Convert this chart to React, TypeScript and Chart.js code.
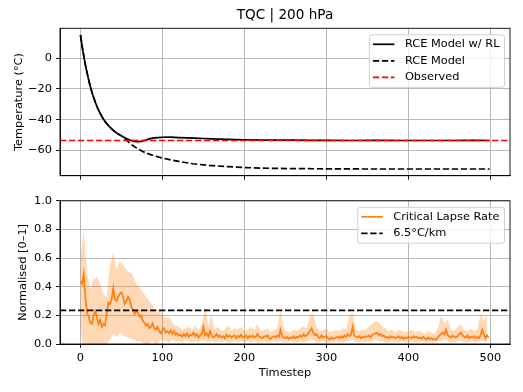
import React, { useEffect, useRef } from "react";
import { Chart, registerables } from "chart.js";

Chart.register(...registerables);

// ---------- axis settings ----------
const X_MIN = -24.95;
const X_MAX = 523.95;
const X_TICKS = [0, 100, 200, 300, 400, 500];
const TEMP_MIN = -76.35;
const TEMP_MAX = 19.35;
const TEMP_TICKS = [-60, -40, -20, 0];
const NORM_MIN = 0;
const NORM_MAX = 1;
const NORM_TICKS = [0, 0.2, 0.4, 0.6, 0.8, 1.0];

const TITLE = "TQC | 200 hPa";
const TEMP_LABEL = "Temperature (°C)";
const NORM_LABEL = "Normalised [0–1]";
const X_LABEL = "Timestep";

// ---------- top panel data ----------
const rlSteps = [0, 3, 6, 9, 12, 15, 18, 21, 24, 27, 30, 35, 40, 45, 50, 55, 60, 65, 70, 75, 80, 85, 90, 95, 100, 110, 120, 130, 140, 150, 160, 170, 180, 190, 200, 220, 240, 260, 280, 300, 330, 360, 390, 420, 450, 480, 499];
const rlTemp = [15, 4.5, -4.4, -11.9, -18.4, -23.9, -28.5, -32.5, -35.9, -38.7, -41.2, -44.4, -46.9, -48.9, -50.5, -52.0, -53.2, -54.0, -54.3, -54.0, -53.2, -52.3, -51.8, -51.6, -51.4, -51.3, -51.6, -51.8, -52.0, -52.2, -52.4, -52.6, -52.8, -52.9, -53.0, -53.2, -53.3, -53.3, -53.4, -53.4, -53.5, -53.4, -53.5, -53.5, -53.5, -53.4, -53.5];

const rlBandSteps = [50, 55, 60, 65, 70, 75, 80, 85, 90, 95, 100, 105, 110];
const rlBandLow = [-51.2, -53.2, -54.6, -55.6, -55.8, -55.3, -54.3, -53.2, -52.5, -52.2, -52.0, -51.9, -51.7];
const rlBandHigh = [-49.8, -50.8, -51.8, -52.4, -52.8, -52.7, -52.1, -51.4, -51.1, -51.0, -50.8, -50.8, -50.9];

const rceSteps = [0, 3, 6, 9, 12, 15, 18, 21, 24, 27, 30, 35, 40, 45, 50, 55, 60, 65, 70, 76, 80, 90, 100, 110, 120, 137, 157, 180, 198, 220, 250, 300, 350, 400, 450, 499];
const rceTemp = [15, 4.5, -4.4, -11.9, -18.4, -23.9, -28.5, -32.5, -35.9, -38.7, -41.2, -44.4, -46.9, -48.9, -50.5, -52.6, -55.2, -57.2, -58.9, -60.6, -61.6, -63.5, -64.9, -66.1, -67.1, -68.6, -69.7, -70.5, -71.0, -71.4, -71.7, -71.9, -72.0, -72.0, -72.0, -72.0];

const OBSERVED_TEMP = -53.5;

// ---------- bottom panel data ----------
const clrSteps = [
  0, 2, 4, 6, 8, 10, 12, 14, 16, 18,
  20, 22, 24, 26, 28, 30, 32, 34, 36, 38,
  40, 42, 44, 46, 48, 50, 52, 54, 56, 58,
  60, 62, 64, 66, 68, 70, 72, 74, 76, 78,
  80, 82, 84, 86, 88, 90, 92, 94, 96, 98,
  100, 102, 104, 106, 108, 110, 112, 114, 116, 118,
  120, 122, 124, 126, 128, 130, 132, 134, 136, 138,
  140, 142, 144, 146, 148, 150, 152, 154, 156, 158,
  160, 162, 164, 166, 168, 170, 172, 174, 176, 178,
  180, 182, 184, 186, 188, 190, 192, 194, 196, 198,
  200, 202, 204, 206, 208, 210, 212, 214, 216, 218,
  220, 222, 224, 226, 228, 230, 232, 234, 236, 238,
  240, 242, 244, 246, 248, 250, 252, 254, 256, 258,
  260, 262, 264, 266, 268, 270, 272, 274, 276, 278,
  280, 282, 284, 286, 288, 290, 292, 294, 296, 298,
  300, 302, 304, 306, 308, 310, 312, 314, 316, 318,
  320, 322, 324, 326, 328, 330, 332, 334, 336, 338,
  340, 342, 344, 346, 348, 350, 352, 354, 356, 358,
  360, 362, 364, 366, 368, 370, 372, 374, 376, 378,
  380, 382, 384, 386, 388, 390, 392, 394, 396, 398,
  400, 402, 404, 406, 408, 410, 412, 414, 416, 418,
  420, 422, 424, 426, 428, 430, 432, 434, 436, 438,
  440, 442, 444, 446, 448, 450, 452, 454, 456, 458,
  460, 462, 464, 466, 468, 470, 472, 474, 476, 478,
  480, 482, 484, 486, 488, 490, 492, 494, 496, 498,
];
const clrMean = [
  0.44, 0.42, 0.49, 0.32, 0.22, 0.19, 0.15, 0.14, 0.2, 0.23,
  0.19, 0.14, 0.17, 0.12, 0.14, 0.13, 0.21, 0.29, 0.28, 0.31,
  0.39, 0.31, 0.3, 0.33, 0.35, 0.36, 0.33, 0.28, 0.3, 0.33,
  0.31, 0.26, 0.24, 0.21, 0.23, 0.22, 0.19, 0.2, 0.16, 0.15,
  0.13, 0.14, 0.11, 0.12, 0.145, 0.11, 0.1, 0.12, 0.09, 0.075,
  0.1, 0.11, 0.08, 0.09, 0.075, 0.095, 0.07, 0.09, 0.065, 0.075,
  0.06, 0.065, 0.05, 0.07, 0.055, 0.075, 0.05, 0.065, 0.06, 0.08,
  0.055, 0.07, 0.045, 0.06, 0.07, 0.12, 0.06, 0.075, 0.05, 0.09,
  0.06, 0.045, 0.055, 0.07, 0.05, 0.06, 0.045, 0.055, 0.04, 0.065,
  0.05, 0.06, 0.045, 0.055, 0.06, 0.04, 0.055, 0.05, 0.065, 0.045,
  0.05, 0.06, 0.04, 0.055, 0.05, 0.06, 0.045, 0.05, 0.07, 0.05,
  0.045, 0.04, 0.055, 0.05, 0.06, 0.04, 0.035, 0.05, 0.055, 0.045,
  0.06, 0.05, 0.1, 0.055, 0.045, 0.04, 0.05, 0.035, 0.045, 0.04,
  0.055, 0.04, 0.05, 0.045, 0.06, 0.05, 0.07, 0.055, 0.06, 0.075,
  0.09, 0.11, 0.08, 0.06, 0.07, 0.05, 0.04, 0.06, 0.045, 0.05,
  0.055, 0.04, 0.03, 0.045, 0.035, 0.04, 0.045, 0.05, 0.04, 0.055,
  0.045, 0.06, 0.05, 0.07, 0.055, 0.065, 0.12, 0.06, 0.05, 0.045,
  0.055, 0.04, 0.05, 0.045, 0.055, 0.05, 0.06, 0.045, 0.065, 0.07,
  0.075, 0.08, 0.06, 0.07, 0.055, 0.06, 0.045, 0.05, 0.04, 0.055,
  0.045, 0.05, 0.04, 0.045, 0.055, 0.04, 0.05, 0.035, 0.045, 0.04,
  0.05, 0.045, 0.04, 0.055, 0.045, 0.05, 0.04, 0.045, 0.035, 0.05,
  0.04, 0.03, 0.045, 0.035, 0.04, 0.03, 0.035, 0.03, 0.045, 0.06,
  0.07, 0.08, 0.065, 0.1, 0.06, 0.055, 0.045, 0.06, 0.05, 0.045,
  0.055, 0.07, 0.08, 0.06, 0.05, 0.045, 0.06, 0.04, 0.05, 0.045,
  0.055, 0.04, 0.05, 0.04, 0.06, 0.1, 0.07, 0.04, 0.06, 0.045,
];

const clrBandSteps = [
  0, 4, 8, 12, 16, 20, 24, 28, 32, 36,
  40, 44, 48, 52, 56, 60, 64, 68, 72, 76,
  80, 84, 88, 92, 96, 100, 104, 108, 112, 116,
  120, 124, 128, 132, 136, 140, 144, 148, 152, 156,
  160, 164, 168, 172, 176, 180, 184, 188, 192, 196,
  200, 204, 208, 212, 216, 220, 224, 228, 232, 236,
  240, 244, 248, 252, 256, 260, 264, 268, 272, 276,
  280, 284, 288, 292, 296, 300, 304, 308, 312, 316,
  320, 324, 328, 332, 336, 340, 344, 348, 352, 356,
  360, 364, 368, 372, 376, 380, 384, 388, 392, 396,
  400, 404, 408, 412, 416, 420, 424, 428, 432, 436,
  440, 444, 448, 452, 456, 460, 464, 468, 472, 476,
  480, 484, 488, 492, 496,
];
const clrBandHigh = [
  0.6, 0.79, 0.5, 0.38, 0.45, 0.47, 0.42, 0.35, 0.33, 0.55,
  0.64, 0.52, 0.58, 0.55, 0.52, 0.5, 0.48, 0.42, 0.4, 0.36,
  0.33, 0.3, 0.27, 0.22, 0.24, 0.2, 0.18, 0.19, 0.15, 0.13,
  0.12, 0.1, 0.11, 0.12, 0.1, 0.13, 0.1, 0.14, 0.26, 0.13,
  0.2, 0.1, 0.12, 0.09, 0.1, 0.13, 0.09, 0.11, 0.1, 0.12,
  0.09, 0.1, 0.12, 0.1, 0.14, 0.09, 0.1, 0.11, 0.08, 0.1,
  0.11, 0.24, 0.1, 0.09, 0.08, 0.1, 0.09, 0.11, 0.12, 0.11,
  0.2, 0.21, 0.12, 0.09, 0.1, 0.11, 0.08, 0.09, 0.1, 0.09,
  0.11, 0.1, 0.2, 0.22, 0.1, 0.09, 0.1, 0.1, 0.12, 0.14,
  0.16, 0.15, 0.12, 0.11, 0.09, 0.1, 0.08, 0.1, 0.09, 0.08,
  0.09, 0.1, 0.08, 0.09, 0.08, 0.07, 0.09, 0.08, 0.07, 0.11,
  0.2, 0.14, 0.17, 0.1, 0.09, 0.12, 0.14, 0.1, 0.09, 0.11,
  0.09, 0.1, 0.21, 0.16, 0.2,
];
const clrBandLow = [
  0.1, -0.05, -0.05, -0.05, -0.02, -0.05, -0.03, -0.05, 0.0, 0.03,
  0.07, 0.05, 0.08, 0.06, 0.05, 0.04, 0.03, 0.02, 0.02, 0.01,
  -0.01, 0.0, 0.02, 0.0, 0.02, 0.03, 0.02, 0.01, 0.03, 0.02,
  0.02, 0.01, 0.03, 0.02, 0.01, 0.02, 0.01, 0.03, 0.02, 0.01,
  0.02, 0.01, 0.02, 0.01, 0.02, 0.01, 0.01, 0.02, 0.01, 0.02,
  0.01, 0.02, 0.01, 0.02, 0.01, 0.01, 0.02, 0.01, 0.01, 0.02,
  0.01, 0.02, 0.01, 0.01, 0.02, 0.01, 0.01, 0.02, 0.01, 0.02,
  0.02, 0.03, 0.01, 0.01, 0.02, 0.01, 0.01, 0.01, 0.02, 0.01,
  0.01, 0.02, 0.02, 0.03, 0.01, 0.01, 0.02, 0.01, 0.02, 0.02,
  0.03, 0.02, 0.02, 0.01, 0.01, 0.02, 0.01, 0.01, 0.02, 0.01,
  0.01, 0.02, 0.01, 0.01, 0.02, 0.01, 0.01, 0.01, 0.01, 0.02,
  0.02, 0.03, 0.02, 0.01, 0.01, 0.02, 0.02, 0.01, 0.01, 0.02,
  0.01, 0.01, 0.02, 0.02, 0.01,
];

const LAPSE_REF = 0.235;

// ---------- styling ----------
const FONT = '"DejaVu Sans", sans-serif';
const FS = 11.35;
const LW = 1.7;
const DASH = [6.3, 2.7];
const ORANGE = "#ff7f0e";
const GRID = "#b0b0b0";

const pts = (xs: number[], ys: number[]) => xs.map((x, i) => ({ x, y: ys[i] }));

const mplPlugin = {
  id: "mpl",
  afterDraw(chart: any, _args: any, opts: any) {
    const ctx = chart.ctx;
    const ca = chart.chartArea;
    ctx.save();
    // full frame (all four spines)
    ctx.strokeStyle = "#000";
    ctx.lineWidth = 0.9;
    ctx.setLineDash([]);
    ctx.strokeRect(ca.left, ca.top, ca.right - ca.left, ca.bottom - ca.top);
    // title
    if (opts.title) {
      ctx.font = `13.6px ${FONT}`;
      ctx.fillStyle = "#000";
      ctx.textAlign = "center";
      ctx.textBaseline = "middle";
      ctx.fillText(opts.title, (ca.left + ca.right) / 2, opts.titleY);
    }
    // legend
    const items = opts.items || [];
    if (items.length) {
      ctx.font = `${FS}px ${FONT}`;
      const textW = Math.max(...items.map((it: any) => ctx.measureText(it.label).width));
      const pad = 3.5, handle = 21.5, gap = 10.5, rowH = 16.5;
      const right = ca.right - 5.5;
      const top = ca.top + 6.5;
      const w = pad + handle + gap + textW + 5;
      const h = items.length * rowH + 3;
      const left = right - w;
      ctx.beginPath();
      ctx.roundRect(left, top, w, h, 2.5);
      ctx.fillStyle = "rgba(255,255,255,0.8)";
      ctx.fill();
      ctx.strokeStyle = "#cccccc";
      ctx.lineWidth = 0.9;
      ctx.stroke();
      items.forEach((it: any, i: number) => {
        const y = top + 9.5 + i * rowH;
        ctx.beginPath();
        ctx.setLineDash(it.dash || []);
        ctx.strokeStyle = it.color;
        ctx.lineWidth = LW;
        ctx.moveTo(left + pad, y);
        ctx.lineTo(left + pad + handle, y);
        ctx.stroke();
        ctx.setLineDash([]);
        ctx.fillStyle = "#000";
        ctx.textAlign = "left";
        ctx.textBaseline = "middle";
        ctx.fillText(it.label, left + pad + handle + gap, y);
      });
    }
    ctx.restore();
  },
};

const xScale = (showLabels: boolean, height: number, withTitle: boolean) => ({
  type: "linear",
  min: X_MIN,
  max: X_MAX,
  afterBuildTicks: (s: any) => {
    s.ticks = X_TICKS.map((v) => ({ value: v }));
  },
  afterFit: (s: any) => {
    s.height = height;
  },
  grid: { color: GRID, lineWidth: 0.9, tickColor: "#000", tickLength: 4, tickWidth: 0.9 },
  border: { color: "#000", width: 0.9 },
  ticks: {
    display: showLabels,
    padding: 3,
    maxRotation: 0,
    font: { family: FONT, size: FS },
    color: "#000",
    callback: (v: any) => String(v),
  },
  title: {
    display: withTitle,
    text: X_LABEL,
    font: { family: FONT, size: FS },
    color: "#000",
    padding: { top: 0, bottom: 12 },
  },
});

const yScale = (min: number, max: number, ticks: number[], label: string, fmt: (v: number) => string, titlePad: number) => ({
  type: "linear",
  min,
  max,
  afterBuildTicks: (s: any) => {
    s.ticks = ticks.map((v) => ({ value: v }));
  },
  afterFit: (s: any) => {
    s.width = 60;
  },
  grid: { color: GRID, lineWidth: 0.9, tickColor: "#000", tickLength: 4, tickWidth: 0.9 },
  border: { color: "#000", width: 0.9 },
  ticks: {
    padding: 4,
    font: { family: FONT, size: FS },
    color: "#000",
    callback: (v: any) => fmt(Number(v)),
  },
  title: {
    display: true,
    text: label,
    font: { family: FONT, size: FS },
    color: "#000",
    padding: { top: titlePad, bottom: 0 },
  },
});

const fmtTemp = (v: number) => (v < 0 ? "\u2212" + Math.abs(v) : String(v));
const fmtNorm = (v: number) => v.toFixed(1);

export default function App() {
  const topRef = useRef<HTMLCanvasElement | null>(null);
  const botRef = useRef<HTMLCanvasElement | null>(null);

  useEffect(() => {
    const common = {
      animation: false,
      responsive: false,
      maintainAspectRatio: false,
      devicePixelRatio: 1,
      events: [],
    };

    const top = new Chart(topRef.current as HTMLCanvasElement, {
      type: "line",
      data: {
        datasets: [
          {
            label: "band-low",
            data: pts(rlBandSteps, rlBandLow),
            borderWidth: 0,
            borderColor: "rgba(0,0,0,0)",
            pointRadius: 0,
            fill: false,
            order: 4,
          },
          {
            label: "band-high",
            data: pts(rlBandSteps, rlBandHigh),
            borderWidth: 0,
            borderColor: "rgba(0,0,0,0)",
            backgroundColor: "rgba(0,0,0,0.12)",
            pointRadius: 0,
            fill: "-1",
            order: 3,
          },
          {
            label: "RCE Model w/ RL",
            data: pts(rlSteps, rlTemp),
            borderColor: "#000",
            borderWidth: LW,
            pointRadius: 0,
            tension: 0,
            fill: false,
            order: 2,
          },
          {
            label: "RCE Model",
            data: pts(rceSteps, rceTemp),
            borderColor: "#000",
            borderWidth: LW,
            borderDash: DASH,
            pointRadius: 0,
            tension: 0,
            fill: false,
            order: 1,
          },
          {
            label: "Observed",
            data: [
              { x: X_MIN, y: OBSERVED_TEMP },
              { x: X_MAX, y: OBSERVED_TEMP },
            ],
            borderColor: "#ff0000",
            borderWidth: LW,
            borderDash: DASH,
            pointRadius: 0,
            fill: false,
            order: 0,
          },
        ],
      },
      options: {
        ...common,
        layout: { padding: { left: 0, right: 13, top: 28.3, bottom: 0 } },
        scales: {
          x: xScale(false, 14.3, false),
          y: yScale(TEMP_MIN, TEMP_MAX, TEMP_TICKS, TEMP_LABEL, fmtTemp, 12.7),
        },
        plugins: {
          legend: { display: false },
          tooltip: { enabled: false },
          mpl: {
            title: TITLE,
            titleY: 15,
            items: [
              { label: "RCE Model w/ RL", color: "#000", dash: [] },
              { label: "RCE Model", color: "#000", dash: DASH },
              { label: "Observed", color: "#ff0000", dash: DASH },
            ],
          },
        },
      },
      plugins: [mplPlugin],
    } as any);

    const bot = new Chart(botRef.current as HTMLCanvasElement, {
      type: "line",
      data: {
        datasets: [
          {
            label: "band-low",
            data: pts(clrBandSteps, clrBandLow),
            borderWidth: 0,
            borderColor: "rgba(0,0,0,0)",
            pointRadius: 0,
            fill: false,
            clip: 0,
            order: 4,
          },
          {
            label: "band-high",
            data: pts(clrBandSteps, clrBandHigh),
            borderWidth: 0,
            borderColor: "rgba(0,0,0,0)",
            backgroundColor: "rgba(255,127,14,0.3)",
            pointRadius: 0,
            fill: "-1",
            clip: 0,
            order: 3,
          },
          {
            label: "Critical Lapse Rate",
            data: pts(clrSteps, clrMean),
            borderColor: ORANGE,
            borderWidth: LW,
            pointRadius: 0,
            tension: 0,
            fill: false,
            order: 1,
          },
          {
            label: "6.5°C/km",
            data: [
              { x: X_MIN, y: LAPSE_REF },
              { x: X_MAX, y: LAPSE_REF },
            ],
            borderColor: "#000",
            borderWidth: LW,
            borderDash: DASH,
            pointRadius: 0,
            fill: false,
            order: 0,
          },
        ],
      },
      options: {
        ...common,
        layout: { padding: { left: 0, right: 13, top: 6.7, bottom: 0 } },
        scales: {
          x: xScale(true, 48, true),
          y: yScale(NORM_MIN, NORM_MAX, NORM_TICKS, NORM_LABEL, fmtNorm, 16.5),
        },
        plugins: {
          legend: { display: false },
          tooltip: { enabled: false },
          mpl: {
            items: [
              { label: "Critical Lapse Rate", color: ORANGE, dash: [] },
              { label: "6.5°C/km", color: "#000", dash: DASH },
            ],
          },
        },
      },
      plugins: [mplPlugin],
    } as any);

    return () => {
      top.destroy();
      bot.destroy();
    };
  }, []);

  return (
    <div style={{ position: "absolute", left: 0, top: 0, width: 523, height: 392, background: "#fff" }}>
      <canvas ref={topRef} width={523} height={190} style={{ position: "absolute", left: 0, top: 0, width: 523, height: 190 }} />
      <canvas ref={botRef} width={523} height={202} style={{ position: "absolute", left: 0, top: 190, width: 523, height: 202 }} />
    </div>
  );
}
